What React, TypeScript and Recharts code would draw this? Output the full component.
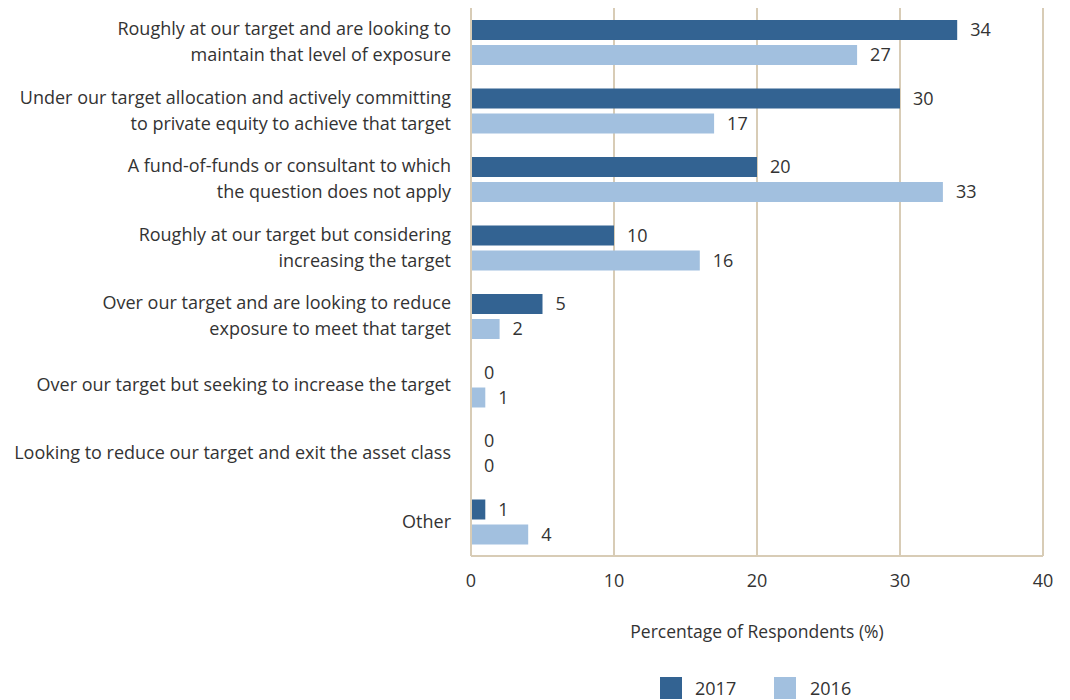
import React from 'react';
import { BarChart, Bar, XAxis, YAxis, CartesianGrid, LabelList, Legend, Label } from 'recharts';

const categories = [
  'Roughly at our target and are looking to maintain that level of exposure',
  'Under our target allocation and actively committing to private equity to achieve that target',
  'A fund-of-funds or consultant to which the question does not apply',
  'Roughly at our target but considering increasing the target',
  'Over our target and are looking to reduce exposure to meet that target',
  'Over our target but seeking to increase the target',
  'Looking to reduce our target and exit the asset class',
  'Other',
];

const tickLines: string[][] = [
  ['Roughly at our target and are looking to', 'maintain that level of exposure'],
  ['Under our target allocation and actively committing', 'to private equity to achieve that target'],
  ['A fund-of-funds or consultant to which', 'the question does not apply'],
  ['Roughly at our target but considering', 'increasing the target'],
  ['Over our target and are looking to reduce', 'exposure to meet that target'],
  ['Over our target but seeking to increase the target'],
  ['Looking to reduce our target and exit the asset class'],
  ['Other'],
];

const values2017 = [34, 30, 20, 10, 5, 0, 0, 1];
const values2016 = [27, 17, 33, 16, 2, 1, 0, 4];
const xTicks = [0, 10, 20, 30, 40];

const data = categories.map((c, i) => ({ name: c, y2017: values2017[i], y2016: values2016[i] }));

const DARK = '#336392';
const LIGHT = '#a2c0df';
const GRID = '#d8ccb6';
const TEXT = '#333333';
const FONT = '"Open Sans", Lato, sans-serif';

const YTick = (props: any) => {
  const { x, y, payload } = props;
  const idx = categories.indexOf(payload.value);
  const lines = tickLines[idx] || [payload.value];
  const lh = 26;
  const start = -((lines.length - 1) * lh) / 2;
  return (
    <text x={x} y={y} textAnchor="end" fill={TEXT} fontSize={18} fontFamily={FONT}>
      {lines.map((l, i) => (
        <tspan key={i} x={x} dy={i === 0 ? start + 6 : lh}>{l}</tspan>
      ))}
    </text>
  );
};

const LegendContent = () => (
  <div style={{ position: 'relative', width: 1070, height: 30, fontFamily: FONT, fontSize: 18, color: TEXT }}>
    <div style={{ position: 'absolute', left: 660, top: 7, width: 22, height: 22, background: DARK }} />
    <div style={{ position: 'absolute', left: 695, top: 6, lineHeight: '24px' }}>2017</div>
    <div style={{ position: 'absolute', left: 774, top: 7, width: 22, height: 22, background: LIGHT }} />
    <div style={{ position: 'absolute', left: 810, top: 6, lineHeight: '24px' }}>2016</div>
  </div>
);

export default function App() {
  return (
    <div style={{ position: 'absolute', left: 0, top: 0, width: 1070, height: 700, background: '#fff' }}>
      <BarChart
        width={1070}
        height={700}
        data={data}
        layout="vertical"
        margin={{ top: 8, right: 27, left: 0, bottom: 0 }}
        barSize={20}
        barGap={5}
      >
        <CartesianGrid vertical={true} horizontal={false} stroke={GRID} strokeWidth={2} />
        <XAxis
          type="number"
          domain={[0, 40]}
          ticks={xTicks}
          height={114}
          axisLine={{ stroke: GRID, strokeWidth: 2 }}
          tickLine={false}
          tickSize={0}
          tickMargin={18}
          tick={{ fill: TEXT, fontSize: 18, fontFamily: FONT }}
        >
          <Label
            value="Percentage of Respondents (%)"
            position="insideTop"
            offset={70}
            fill={TEXT}
            fontSize={17.5}
            fontFamily={FONT}
          />
        </XAxis>
        <YAxis
          type="category"
          dataKey="name"
          width={471}
          axisLine={{ stroke: GRID, strokeWidth: 2 }}
          tickLine={false}
          tickSize={0}
          tickMargin={20}
          tick={<YTick />}
          interval={0}
        />
        <Legend verticalAlign="bottom" height={30} content={<LegendContent />} wrapperStyle={{ left: 0, width: 1070 }} />
        <Bar dataKey="y2017" name="2017" fill={DARK} isAnimationActive={false} minPointSize={0.01}>
          <LabelList dataKey="y2017" position="right" offset={13} fill={TEXT} fontSize={18} fontFamily={FONT} />
        </Bar>
        <Bar dataKey="y2016" name="2016" fill={LIGHT} isAnimationActive={false} minPointSize={0.01}>
          <LabelList dataKey="y2016" position="right" offset={13} fill={TEXT} fontSize={18} fontFamily={FONT} />
        </Bar>
      </BarChart>
    </div>
  );
}
